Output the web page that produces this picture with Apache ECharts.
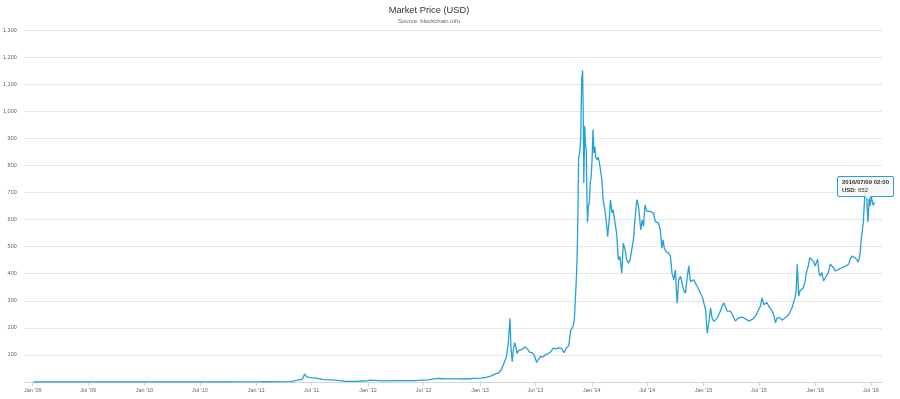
<!DOCTYPE html>
<html>
<head>
<meta charset="utf-8">
<script src="https://cdn.jsdelivr.net/npm/echarts@6/dist/echarts.min.js"></script>
<style>
  html, body { margin: 0; padding: 0; background: #ffffff; }
  #chart { width: 900px; height: 399px; }
</style>
</head>
<body>
<div id="chart"></div>
<script>
const titleText = 'Market Price (USD)';
const subtitleText = 'Source: blockchain.info';
const seriesName = 'USD';

const dates = [
  '2009-01-03','2009-06-01','2010-01-01','2010-07-17','2010-10-01','2010-11-06','2010-12-31',
  '2011-02-10','2011-04-01','2011-04-25','2011-05-15','2011-06-01','2011-06-08','2011-06-15','2011-06-25',
  '2011-07-15','2011-08-10','2011-09-01','2011-10-01','2011-10-20','2011-11-18','2011-12-31',
  '2012-01-10','2012-02-20','2012-04-01','2012-06-01','2012-07-15','2012-08-16','2012-08-20','2012-09-15',
  '2012-10-15','2012-11-20','2012-12-15',
  '2013-01-05','2013-01-20','2013-02-05','2013-02-20','2013-03-03','2013-03-12','2013-03-20','2013-03-28',
  '2013-04-03','2013-04-09','2013-04-12','2013-04-16','2013-04-20','2013-04-24','2013-04-28','2013-05-02',
  '2013-05-06','2013-05-12','2013-05-20','2013-05-28','2013-06-05','2013-06-12','2013-06-20','2013-06-27',
  '2013-07-05','2013-07-10','2013-07-18','2013-07-25','2013-08-01','2013-08-10','2013-08-20','2013-08-28',
  '2013-09-05','2013-09-15','2013-09-25','2013-10-02','2013-10-10','2013-10-18','2013-10-24','2013-11-01',
  '2013-11-05','2013-11-09','2013-11-12','2013-11-15','2013-11-17','2013-11-19','2013-11-22','2013-11-26',
  '2013-11-29','2013-12-02','2013-12-04','2013-12-06','2013-12-09','2013-12-12','2013-12-14','2013-12-16',
  '2013-12-18','2013-12-21','2013-12-24','2013-12-27','2013-12-30',
  '2014-01-02','2014-01-05','2014-01-08','2014-01-11','2014-01-14','2014-01-18','2014-01-22','2014-01-26',
  '2014-01-30','2014-02-03','2014-02-07','2014-02-13','2014-02-18','2014-02-22','2014-02-27','2014-03-03',
  '2014-03-08','2014-03-12','2014-03-18','2014-03-23','2014-03-29','2014-04-03','2014-04-09','2014-04-14',
  '2014-04-20','2014-04-25','2014-05-01','2014-05-06','2014-05-12','2014-05-17','2014-05-23','2014-05-28',
  '2014-06-02','2014-06-06','2014-06-10','2014-06-15','2014-06-19','2014-06-24','2014-06-30','2014-07-05',
  '2014-07-11','2014-07-16','2014-07-22','2014-07-27','2014-08-02','2014-08-07','2014-08-13','2014-08-18',
  '2014-08-22','2014-08-26','2014-08-31','2014-09-04','2014-09-09','2014-09-15','2014-09-20','2014-09-26',
  '2014-10-01','2014-10-07','2014-10-12','2014-10-18','2014-10-23','2014-10-28','2014-11-03','2014-11-09',
  '2014-11-14','2014-11-19','2014-11-25','2014-11-30','2014-12-06','2014-12-12','2014-12-17','2014-12-22',
  '2014-12-28',
  '2015-01-02','2015-01-08','2015-01-13','2015-01-18','2015-01-24','2015-01-29','2015-02-04','2015-02-09',
  '2015-02-15','2015-02-20','2015-02-25','2015-03-03','2015-03-08','2015-03-14','2015-03-19','2015-03-25',
  '2015-03-30','2015-04-05','2015-04-10','2015-04-15','2015-04-21','2015-04-26','2015-05-02','2015-05-07',
  '2015-05-13','2015-05-18','2015-05-23','2015-05-29','2015-06-03','2015-06-09','2015-06-14','2015-06-20',
  '2015-06-25','2015-06-30','2015-07-06','2015-07-11','2015-07-17','2015-07-22','2015-07-28','2015-08-02',
  '2015-08-07','2015-08-13','2015-08-18','2015-08-24','2015-08-29','2015-09-03','2015-09-09','2015-09-14',
  '2015-09-20','2015-09-25','2015-10-01','2015-10-06','2015-10-12','2015-10-17','2015-10-22','2015-10-28',
  '2015-10-31','2015-11-03','2015-11-05','2015-11-08','2015-11-12','2015-11-17','2015-11-23','2015-11-28',
  '2015-12-03','2015-12-09','2015-12-14','2015-12-20','2015-12-25',
  '2016-01-01','2016-01-04','2016-01-09','2016-01-13','2016-01-17','2016-01-23','2016-01-28','2016-02-03',
  '2016-02-08','2016-02-13','2016-02-19','2016-02-24','2016-03-01','2016-03-06','2016-03-12','2016-03-17',
  '2016-03-23','2016-03-28','2016-04-02','2016-04-08','2016-04-13','2016-04-19','2016-04-24','2016-04-30',
  '2016-05-05','2016-05-10','2016-05-16','2016-05-21','2016-05-27','2016-05-30','2016-06-06','2016-06-10',
  '2016-06-13','2016-06-17','2016-06-21','2016-06-25','2016-06-28','2016-07-02','2016-07-06','2016-07-09 02:00',
  '2016-07-12','2016-07-15'
];

const prices = [
  0,0,0,0.05,0.06,0.3,0.3,
  1.0,0.8,1.5,7,10,30,19,16,
  14,9,8,5,2.3,2.2,4.7,
  7,4.5,4.9,5.3,8,13,9,11.5,
  11.8,11,13.5,
  14,17,22,30,34,46,68,92,
  140,235,130,75,120,145,130,105,
  115,118,122,130,122,110,108,100,
  72,82,95,92,100,103,112,125,
  122,126,124,108,125,135,190,205,
  230,320,390,500,640,830,840,900,
  1117,1150,1010,735,945,870,860,700,
  590,650,661,735,760,
  821,932,846,870,830,821,830,809,
  815,747,673,636,587,537,599,673,
  624,636,587,550,451,463,402,513,
  488,451,439,451,445,525,611,673,
  655,611,562,599,575,654,630,630,
  630,624,624,593,599,587,562,494,
  525,494,482,488,476,464,402,377,
  414,291,377,390,365,340,328,390,
  429,371,377,377,377,352,340,328,
  315,
  310,266,180,217,273,236,224,230,
  236,242,262,280,293,293,262,256,
  262,256,237,225,231,237,231,240,
  237,233,231,225,225,231,237,243,
  256,268,280,311,286,293,293,280,
  274,262,249,219,237,231,237,228,
  233,237,243,249,262,274,293,317,
  342,435,392,317,336,330,348,367,
  404,428,459,453,447,
  428,440,453,404,391,404,373,385,
  379,404,435,428,422,410,410,416,
  410,422,416,428,422,435,453,465,
  459,459,453,443,478,527,589,675,
  750,680,591,675,650,690,660,652,
  665,660
];

const xTickDates = [
  '2009-01-01','2009-07-01','2010-01-01','2010-07-01','2011-01-01','2011-07-01','2012-01-01','2012-07-01',
  '2013-01-01','2013-07-01','2014-01-01','2014-07-01','2015-01-01','2015-07-01','2016-01-01','2016-07-01'
];
const xTickLabels = [
  "Jan '09","Jul '09","Jan '10","Jul '10","Jan '11","Jul '11","Jan '12","Jul '12",
  "Jan '13","Jul '13","Jan '14","Jul '14","Jan '15","Jul '15","Jan '16","Jul '16"
];
const xMinDate = '2008-12-06';
const xMaxDate = '2016-08-06';
const yMin = 0, yMax = 1300, yStep = 100;
const tooltipDate = '2016-07-09 02:00';

const lineColor = '#26a0da';
const fontFam = '"Liberation Sans", Arial, Helvetica, sans-serif';

const toTs = s => echarts.time.parse(s).getTime();
const tickValues = xTickDates.map(toTs);
const seriesData = dates.map((d, i) => [toTs(d), prices[i]]);

const chart = echarts.init(document.getElementById('chart'), null, { renderer: 'canvas' });

const option = {
  animation: false,
  backgroundColor: '#ffffff',
  title: {
    text: titleText,
    subtext: subtitleText,
    left: 429,
    textAlign: 'center',
    top: 6,
    padding: 0,
    itemGap: 3,
    textStyle: { fontSize: 9.3, fontWeight: 'normal', color: '#333333', fontFamily: fontFam },
    subtextStyle: { fontSize: 6, color: '#666666', fontFamily: fontFam }
  },
  grid: { left: 24, right: 18, top: 30, bottom: 17, containLabel: false },
  xAxis: {
    type: 'value',
    min: toTs(xMinDate),
    max: toTs(xMaxDate),
    axisLine: { show: true, lineStyle: { color: '#ccd6eb', width: 1 } },
    axisTick: { show: true, customValues: tickValues, length: 4, lineStyle: { color: '#ccd6eb' } },
    axisLabel: {
      customValues: tickValues,
      fontSize: 5.5,
      color: '#666666',
      fontFamily: fontFam,
      margin: 5,
      formatter: function (v) {
        const i = tickValues.indexOf(v);
        return i >= 0 ? xTickLabels[i] : '';
      }
    },
    splitLine: { show: false }
  },
  yAxis: {
    type: 'value',
    min: yMin,
    max: yMax,
    interval: yStep,
    axisLine: { show: false },
    axisTick: { show: false },
    axisLabel: {
      fontSize: 5.5,
      color: '#666666',
      fontFamily: fontFam,
      margin: 8,
      formatter: v => v === 0 ? '' : v.toLocaleString('en-US')
    },
    splitLine: { lineStyle: { color: '#e6e6e6', width: 1 } }
  },
  tooltip: {
    show: true,
    trigger: 'axis',
    axisPointer: { type: 'none' },
    triggerOn: 'none',
    alwaysShowContent: true,
    transitionDuration: 0,
    backgroundColor: 'rgba(247,247,247,0.9)',
    borderColor: lineColor,
    borderWidth: 1,
    borderRadius: 2,
    padding: [2, 4, 2, 4],
    extraCssText: 'box-shadow:none;overflow:visible;',
    textStyle: { fontSize: 6, color: '#333333', fontFamily: fontFam },
    formatter: function (ps) {
      const p = Array.isArray(ps) ? ps[0] : ps;
      const d = echarts.time.format(p.value[0], '{yyyy}/{MM}/{dd} {HH}:{mm}', false);
      return '<div style="font-family:' + fontFam.replace(/"/g, "'") + ';font-size:6px;line-height:7.5px;color:#333;white-space:nowrap;">' +
        '<div style="font-weight:bold;">' + d + '</div>' +
        '<div><b>' + p.seriesName + '</b>: ' + p.value[1] + '</div>' +
        '</div>' +
        '<div style="position:absolute;left:26px;bottom:-5px;width:0;height:0;border-left:4px solid transparent;border-right:4px solid transparent;border-top:5px solid ' + lineColor + ';"></div>' +
        '<div style="position:absolute;left:27px;bottom:-3.5px;width:0;height:0;border-left:3px solid transparent;border-right:3px solid transparent;border-top:4px solid rgb(247,247,247);"></div>';
    },
    position: function (point, params, dom, rect, size) {
      return [point[0] - 36, point[1] - size.contentSize[1] - 8];
    }
  },
  series: [{
    name: seriesName,
    type: 'line',
    data: seriesData,
    showSymbol: false,
    symbol: 'none',
    color: lineColor,
    lineStyle: { color: lineColor, width: 1.3 },
    emphasis: { disabled: true },
    z: 3
  }]
};

chart.setOption(option);
const tipIndex = dates.indexOf(tooltipDate);
chart.dispatchAction({ type: 'showTip', seriesIndex: 0, dataIndex: tipIndex });
</script>
</body>
</html>
